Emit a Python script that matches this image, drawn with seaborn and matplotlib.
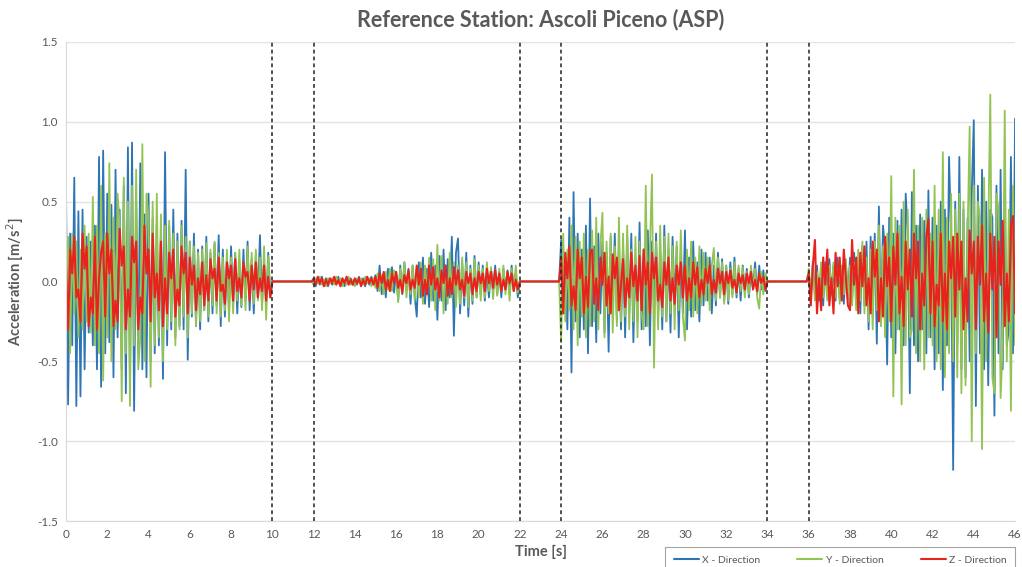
import numpy as np
import pandas as pd
import matplotlib
matplotlib.use('Agg')
import matplotlib.pyplot as plt
import seaborn as sns

sns.set_style('white')
plt.rcParams['font.family'] = ['Lato', 'DejaVu Sans']

# sampling: 0.1 s, four recorded windows separated by 2 s of zeros
dt = 0.1
gap = [0.0] * 20

x_seg1 = [0.55, -0.77, 0.30, -0.40, 0.65, -0.78, 0.44, -0.72, 0.45, -0.55,
          0.28, -0.32, 0.25, -0.40, 0.35, -0.55, 0.78, -0.66, 0.82, -0.45,
          0.55, -0.38, 0.48, -0.60, 0.70, -0.35, 0.45, -0.55, 0.60, -0.70,
          0.84, -0.63, 0.87, -0.81, 0.50, -0.45, 0.74, -0.55, 0.42, -0.60,
          0.55, -0.50, 0.40, -0.45, 0.35, -0.40, 0.30, -0.61, 0.81, -0.40,
          0.35, -0.30, 0.45, -0.35, 0.30, -0.28, 0.38, -0.30, 0.70, -0.49,
          0.25, -0.22, 0.30, -0.28, 0.20, -0.30, 0.22, -0.18, 0.28, -0.25,
          0.18, -0.20, 0.24, -0.15, 0.29, -0.28, 0.20, -0.22, 0.15, -0.18,
          0.22, -0.14, 0.18, -0.20, 0.12, -0.16, 0.20, -0.12, 0.25, -0.18,
          0.14, -0.20, 0.16, -0.10, 0.29, -0.15, 0.12, -0.14, 0.18, -0.08]
y_seg1 = [-0.30, 0.28, -0.45, 0.30, -0.20, 0.25, -0.35, 0.20, -0.30, 0.35,
          -0.25, 0.30, -0.32, 0.53, -0.40, 0.35, -0.45, 0.60, -0.62, 0.30,
          -0.35, 0.74, -0.50, 0.40, -0.30, 0.55, 0.35, -0.75, 0.65, -0.45,
          0.50, -0.78, 0.60, -0.40, 0.70, -0.55, -0.35, 0.86, -0.50, 0.55,
          0.40, -0.66, 0.50, -0.40, 0.55, -0.35, 0.42, -0.50, 0.35, -0.30,
          0.38, -0.25, 0.30, -0.40, 0.25, -0.30, 0.35, -0.22, 0.28, -0.35,
          0.25, -0.20, 0.22, -0.28, 0.18, -0.25, 0.20, -0.18, 0.24, -0.22,
          0.20, -0.15, 0.25, -0.20, 0.18, -0.22, 0.15, -0.18, 0.20, -0.25,
          0.15, -0.20, 0.18, -0.12, 0.20, -0.15, 0.12, -0.18, 0.22, -0.10,
          0.18, -0.14, 0.20, -0.12, 0.15, -0.18, 0.22, -0.24, 0.16, -0.10]
z_seg1 = [0.10, -0.30, 0.20, 0.05, 0.28, -0.10, -0.05, -0.25, 0.30, 0.08,
          0.22, -0.28, -0.10, -0.20, 0.28, -0.30, 0.02, 0.18, 0.25, -0.22,
          0.30, 0.05, 0.20, -0.28, -0.12, -0.25, 0.33, 0.10, 0.22, -0.30,
          -0.05, -0.22, 0.28, 0.12, 0.25, -0.30, -0.10, -0.20, 0.35, 0.05,
          0.20, -0.25, 0.30, -0.10, 0.05, -0.18, 0.25, -0.28, 0.02, -0.20,
          0.18, 0.02, 0.20, -0.22, -0.05, -0.15, 0.22, 0.05, 0.18, -0.20,
          0.15, -0.02, 0.10, -0.18, 0.02, -0.08, 0.12, -0.15, 0.04, -0.12,
          0.14, 0.02, 0.08, -0.12, 0.15, -0.06, -0.02, -0.14, 0.12, 0.02,
          0.10, -0.12, 0.14, -0.06, 0.02, -0.10, 0.12, 0.03, 0.06, -0.12,
          0.10, -0.05, 0.12, -0.10, 0.02, -0.06, 0.10, -0.12, 0.03, -0.10]

x_seg2 = [0.02, -0.03, 0.01, -0.02, 0.03, -0.01, 0.02, -0.03, 0.01, -0.02,
          0.02, -0.01, 0.03, -0.02, 0.01, -0.03, 0.02, -0.01, 0.02, -0.02,
          0.01, -0.02, 0.03, -0.01, 0.02, -0.03, 0.02, -0.02, 0.03, -0.01,
          0.04, -0.06, 0.10, -0.08, 0.05, -0.10, 0.08, -0.04, 0.09, -0.07,
          0.06, -0.12, 0.10, -0.08, 0.12, -0.05, 0.08, -0.14, 0.10, -0.09,
          -0.22, 0.12, -0.10, 0.15, -0.14, 0.08, -0.16, 0.18, -0.12, 0.10,
          -0.24, 0.16, -0.12, 0.20, -0.18, 0.14, -0.10, 0.28, -0.34, 0.18,
          0.27, -0.20, 0.12, -0.15, 0.18, -0.22, 0.10, -0.14, 0.16, -0.10,
          0.12, -0.08, 0.10, -0.12, 0.06, -0.10, 0.08, -0.06, 0.10, -0.08,
          0.06, -0.10, 0.08, -0.05, 0.07, -0.08, 0.10, -0.06, 0.05, -0.10]
y_seg2 = [-0.02, 0.02, -0.01, 0.03, -0.02, 0.01, -0.03, 0.02, -0.01, 0.02,
          -0.02, 0.03, -0.01, 0.02, -0.03, 0.01, -0.02, 0.03, -0.02, 0.01,
          -0.03, 0.02, -0.01, 0.02, -0.02, 0.03, -0.01, 0.02, -0.03, 0.02,
          -0.04, 0.05, -0.06, 0.04, -0.08, 0.06, -0.05, 0.08, -0.06, 0.07,
          0.05, -0.13, 0.08, -0.06, 0.12, -0.10, 0.06, -0.08, 0.10, -0.12,
          0.08, -0.10, 0.12, -0.14, 0.10, -0.08, 0.15, -0.12, 0.14, -0.18,
          0.23, -0.12, 0.16, -0.20, 0.10, -0.14, 0.18, -0.10, 0.12, -0.16,
          0.10, -0.14, 0.15, -0.10, 0.12, -0.16, 0.08, -0.12, 0.14, -0.10,
          0.10, -0.12, 0.08, -0.10, 0.12, -0.06, 0.09, -0.11, 0.07, -0.09,
          0.08, -0.06, 0.10, -0.08, 0.06, -0.12, 0.08, -0.05, 0.10, -0.07]
z_seg2 = [0.01, -0.02, 0.03, -0.01, 0.02, -0.03, 0.01, -0.02, 0.02, -0.01,
          0.03, -0.02, 0.01, -0.03, 0.02, -0.01, 0.03, -0.02, 0.01, -0.02,
          0.02, -0.01, 0.02, -0.03, 0.01, -0.02, 0.03, -0.01, 0.02, -0.02,
          0.03, -0.04, 0.05, -0.01, 0.06, -0.05, 0.01, -0.06, 0.05, -0.01,
          0.06, -0.04, 0.01, -0.07, 0.04, -0.01, 0.07, -0.05, 0.01, -0.04,
          0.10, -0.02, 0.08, -0.09, 0.01, -0.08, 0.10, -0.02, 0.09, -0.05,
          0.02, -0.10, 0.07, -0.01, 0.10, -0.09, 0.02, -0.08, 0.09, -0.02,
          0.07, -0.05, 0.01, -0.09, 0.06, -0.01, 0.05, -0.08, 0.02, -0.06,
          0.06, -0.01, 0.05, -0.06, 0.08, -0.01, 0.06, -0.04, 0.07, -0.02,
          0.05, -0.06, 0.01, -0.05, 0.06, -0.01, 0.05, -0.06, 0.01, -0.05]

x_seg3 = [0.26, -0.20, 0.15, -0.30, 0.40, -0.57, 0.56, -0.25, 0.30, -0.35,
          0.20, -0.30, 0.35, -0.45, 0.52, -0.28, 0.22, -0.38, 0.30, -0.20,
          0.25, -0.32, 0.18, -0.44, 0.28, -0.15, 0.30, -0.25, 0.20, -0.30,
          0.22, -0.35, 0.28, -0.20, 0.30, -0.38, 0.15, -0.25, 0.37, -0.30,
          0.20, -0.28, 0.32, -0.40, 0.25, -0.18, 0.30, -0.22, 0.18, -0.30,
          0.35, -0.25, 0.20, -0.32, 0.28, -0.15, 0.22, -0.35, 0.18, -0.20,
          0.32, -0.30, 0.15, -0.22, 0.25, -0.18, 0.12, -0.25, 0.20, -0.15,
          0.18, -0.12, 0.15, -0.20, 0.10, -0.15, 0.18, -0.10, 0.14, -0.12,
          0.10, -0.14, 0.12, -0.08, 0.15, -0.10, 0.08, -0.12, 0.10, -0.06,
          0.08, -0.10, 0.06, -0.04, 0.12, -0.08, 0.10, -0.05, 0.07, -0.06]
y_seg3 = [-0.38, 0.30, -0.25, 0.20, -0.18, 0.35, -0.30, 0.28, -0.40, 0.25,
          -0.22, 0.30, -0.35, 0.20, -0.28, 0.32, -0.25, 0.40, -0.30, 0.22,
          0.43, -0.35, 0.25, -0.20, 0.30, -0.32, 0.22, -0.28, 0.40, -0.25,
          0.30, -0.22, 0.35, -0.30, 0.20, -0.25, 0.28, -0.35, 0.25, -0.20,
          -0.30, 0.60, -0.28, 0.20, 0.67, -0.54, 0.25, -0.30, 0.35, -0.22,
          0.28, -0.25, 0.30, -0.20, 0.22, -0.30, 0.25, -0.18, 0.32, -0.22,
          -0.37, 0.20, -0.18, 0.25, -0.22, 0.15, -0.20, 0.22, -0.15, 0.18,
          -0.12, 0.15, -0.18, 0.10, 0.21, -0.12, 0.15, -0.10, 0.12, -0.14,
          0.10, -0.12, 0.08, -0.10, 0.12, -0.08, 0.10, -0.06, 0.09, -0.10,
          0.06, -0.08, 0.10, -0.05, 0.08, -0.10, -0.17, 0.06, -0.08, 0.05]
z_seg3 = [0.15, -0.20, 0.18, 0.02, 0.22, -0.15, -0.03, -0.18, 0.20, 0.02,
          0.15, -0.20, 0.03, -0.16, 0.18, 0.20, -0.14, 0.02, -0.18, 0.15,
          -0.02, 0.18, -0.15, 0.03, -0.20, 0.17, 0.02, 0.15, -0.18, -0.02,
          0.14, -0.16, 0.02, -0.10, 0.18, -0.03, 0.10, -0.12, 0.16, -0.18,
          0.20, -0.02, 0.12, -0.20, 0.18, 0.02, 0.15, -0.12, -0.02, -0.16,
          0.12, -0.02, 0.15, -0.12, 0.02, -0.14, 0.10, -0.02, 0.12, -0.10,
          0.10, -0.12, 0.02, -0.10, 0.12, -0.02, 0.09, -0.10, 0.01, -0.08,
          0.08, -0.01, 0.10, -0.08, 0.01, -0.07, 0.08, -0.01, 0.06, -0.08,
          0.06, -0.01, 0.07, -0.04, 0.01, -0.07, 0.05, -0.01, 0.04, -0.05,
          0.05, -0.01, 0.06, -0.05, 0.01, -0.06, 0.05, -0.01, 0.03, -0.05]

x_seg4 = [0.05, -0.10, 0.12, -0.08, 0.10, -0.12, 0.08, -0.15, 0.12, -0.10,
          0.14, -0.08, 0.10, -0.12, 0.15, -0.10, 0.08, -0.14, 0.12, -0.10,
          0.15, -0.12, 0.18, -0.10, 0.14, -0.20, 0.22, -0.15, 0.25, -0.30,
          0.28, -0.22, 0.30, -0.39, 0.47, -0.25, 0.35, 0.20, -0.52, 0.40,
          -0.35, 0.30, -0.45, 0.38, -0.30, 0.45, -0.40, 0.55, 0.30, -0.70,
          0.56, -0.40, 0.35, -0.50, 0.42, -0.30, 0.38, -0.45, 0.57, -0.35,
          0.40, -0.55, 0.35, -0.45, 0.50, -0.68, 0.45, -0.40, 0.78, 0.30,
          -1.18, 0.50, -0.40, 0.78, -0.55, 0.45, -0.60, 0.40, -0.50, 0.55,
          1.01, -0.78, 0.60, -0.45, 0.70, -0.55, 0.50, -0.65, 0.45, 0.40,
          -0.84, 0.60, -0.45, 0.70, -0.55, 0.50, -0.40, -0.30, 0.78, -0.45,
          1.02]
y_seg4 = [0.08, -0.05, 0.10, -0.12, 0.06, -0.08, 0.12, -0.10, 0.05, -0.12,
          0.10, -0.06, 0.12, -0.10, 0.08, -0.14, 0.10, -0.08, 0.14, -0.12,
          0.10, -0.15, 0.12, -0.18, 0.20, -0.12, 0.25, -0.20, 0.15, -0.25,
          0.20, -0.30, 0.25, -0.18, 0.35, -0.28, 0.22, -0.35, 0.30, -0.25,
          0.66, -0.72, 0.40, -0.30, 0.35, -0.77, 0.50, -0.40, 0.45, -0.35,
          -0.30, 0.70, -0.45, 0.35, -0.50, 0.40, -0.55, 0.45, -0.35, 0.30,
          -0.40, 0.60, -0.50, 0.45, -0.55, 0.81, -0.60, 0.40, -0.45, 0.55,
          -0.50, 0.45, -0.60, 0.55, -0.70, 0.50, -0.65, 0.30, 0.97, -1.00,
          0.60, -0.45, 0.50, 0.40, -1.05, 0.65, -0.50, 0.30, 1.17, -0.60,
          -0.70, 0.55, 0.45, -0.73, -0.40, 1.07, -0.50, 0.45, -0.81, 0.60,
          -0.40]
z_seg4 = [0.05, -0.15, 0.10, 0.26, -0.20, 0.02, -0.18, 0.15, -0.02, 0.20,
          -0.15, 0.02, -0.20, 0.18, -0.03, 0.15, -0.12, 0.20, 0.02, -0.15,
          -0.18, 0.26, -0.02, 0.15, -0.20, 0.18, -0.03, 0.22, -0.15, 0.02,
          -0.20, 0.25, 0.03, 0.20, -0.25, 0.02, -0.22, 0.28, -0.03, 0.15,
          -0.25, 0.22, -0.02, 0.30, -0.20, 0.03, -0.28, 0.25, -0.05, 0.20,
          -0.22, 0.30, 0.02, 0.25, -0.30, 0.05, -0.15, 0.28, 0.39, -0.20,
          0.25, -0.28, -0.02, -0.15, 0.30, -0.25, 0.05, -0.30, 0.25, 0.02,
          0.28, -0.22, 0.30, -0.05, 0.25, -0.30, 0.02, -0.25, 0.32, 0.05,
          0.25, -0.30, 0.28, -0.02, 0.35, -0.25, 0.05, -0.32, 0.30, -0.05,
          0.28, -0.35, 0.25, -0.02, 0.38, -0.28, 0.05, -0.25, 0.35, 0.41,
          -0.20]

window_edges = [10, 12, 22, 24, 34, 36]
labels = ['X - Direction', 'Y - Direction', 'Z - Direction']
colors = ['#2E75B6', '#92C353', '#E8231E']

def full(s1, s2, s3, s4):
    return s1 + gap + s2 + gap + s3 + gap + s4

series = [full(x_seg1, x_seg2, x_seg3, x_seg4),
          full(y_seg1, y_seg2, y_seg3, y_seg4),
          full(z_seg1, z_seg2, z_seg3, z_seg4)]
time = np.round(np.arange(len(series[0])) * dt, 1)

frames = []
for lab, vals in zip(labels, series):
    frames.append(pd.DataFrame({'Time': time, 'Acc': vals, 'Dir': lab}))
df = pd.concat(frames, ignore_index=True)

fig = plt.figure(figsize=(10.22, 5.67), dpi=100)
ax = fig.add_axes([0.0646, 0.0811, 0.9286, 0.8449])

widths = {'X - Direction': 1.3, 'Y - Direction': 1.3, 'Z - Direction': 1.5}
for lab, col in zip(labels, colors):
    sns.lineplot(data=df[df['Dir'] == lab], x='Time', y='Acc', color=col,
                 lw=widths[lab], estimator=None, sort=False, label=lab, ax=ax)

for e in window_edges:
    ax.axvline(e, color='#222222', lw=1.1, ls=(0, (2.5, 2)), zorder=5)

ax.set_xlim(0, 46)
ax.set_ylim(-1.5, 1.5)
ax.set_xticks(np.arange(0, 47, 2))
ax.set_yticks(np.arange(-1.5, 1.51, 0.5))
ax.set_yticklabels([f'{v:.1f}' for v in np.arange(-1.5, 1.51, 0.5)])
ax.yaxis.grid(True, color='#e3e3e3', lw=1)
ax.xaxis.grid(False)
ax.set_axisbelow(True)
for s in ['top', 'right']:
    ax.spines[s].set_visible(False)
for s in ['left', 'bottom']:
    ax.spines[s].set_color('#d9d9d9')
ax.tick_params(axis='both', length=0, labelsize=8.5, colors='#595959', pad=6)

ax.set_title('Reference Station: Ascoli Piceno (ASP)', fontsize=15.5,
             fontweight='bold', color='#595959', pad=11)
ax.set_xlabel('Time [s]', fontsize=10.5, fontweight='bold', color='#595959', labelpad=3)
ax.set_ylabel('Acceleration [m/s$^2$]', fontsize=10.5, fontweight='bold',
              color='#595959', labelpad=8)

leg = ax.legend(loc='upper left', bbox_to_anchor=(0.651, -0.04, 0.342, 0.075),
                bbox_transform=fig.transFigure, ncol=3, mode='expand',
                fontsize=7.5, frameon=True, fancybox=False, handlelength=2.4,
                borderpad=0.8, borderaxespad=0, handletextpad=0.3)
leg.get_frame().set_edgecolor('#8c8c8c')
leg.get_frame().set_linewidth(0.8)
for line in leg.get_lines():
    line.set_linewidth(1.5)
for t in leg.get_texts():
    t.set_color('#595959')

fig.savefig('out.png', dpi=100)
